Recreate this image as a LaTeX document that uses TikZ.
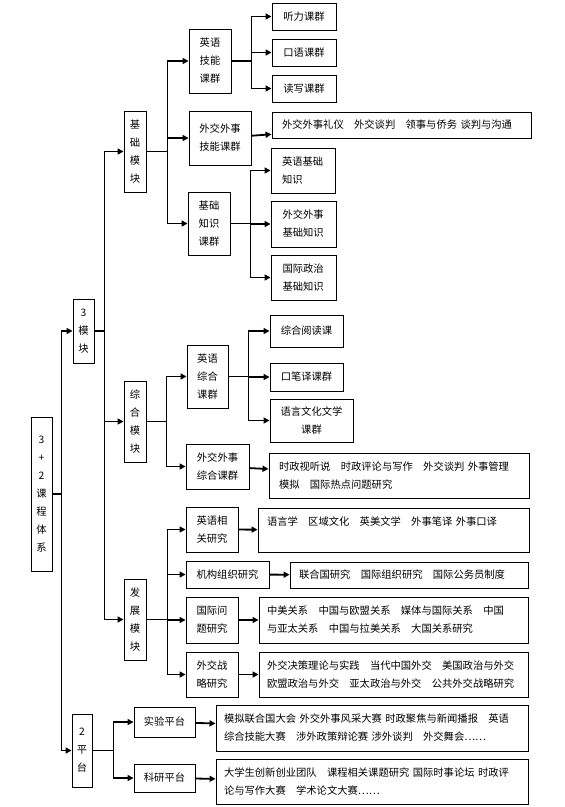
\documentclass[tikz,border=0pt]{standalone}
\usepackage{fontspec}
\setmainfont{Noto Sans CJK SC}
\usetikzlibrary{arrows.meta}

\begin{document}
\begin{tikzpicture}[x=1pt, y=-1pt,
        box/.style={draw, line width=0.9pt, inner sep=0pt, align=center, font=\fontsize{10.3}{18}\selectfont},
        wide/.style={box, align=left},
        ln/.style={line width=1.8pt},
        arr/.style={line width=1.8pt, -{Triangle[length=6pt, width=6pt]}}]
        \useasboundingbox (0,0) rectangle (565,807);

        % root and the two main parts
        \node[box, minimum width=21, minimum height=154] (root) at (41.5, 494) {3\\+\\2\\课\\程\\体\\系};
        \node[box, minimum width=21, minimum height=64] (mk) at (83.5, 331) {3\\模\\块};
        \node[box, minimum width=20, minimum height=73] (pt) at (82, 750.5) {2\\平\\台};

        % modules
        \node[box, minimum width=22, minimum height=81] (jc) at (135, 151.5) {基\\础\\模\\块};
        \node[box, minimum width=22, minimum height=81] (zh) at (135, 421.5) {综\\合\\模\\块};
        \node[box, minimum width=22, minimum height=81] (fz) at (135, 619.5) {发\\展\\模\\块};

        % course groups
        \node[box, minimum width=42, minimum height=64] (yyjn) at (210, 61) {英语\\技能\\课群};
        \node[box, minimum width=62, minimum height=54] (wjjn) at (220, 138) {外交外事\\技能课群};
        \node[box, minimum width=42, minimum height=63] (jczs) at (209, 223.5) {基础\\知识\\课群};
        \node[box, minimum width=41, minimum height=63] (yyzh) at (207.5, 376.5) {英语\\综合\\课群};
        \node[box, minimum width=63, minimum height=45] (wjzh) at (217.5, 466.5) {外交外事\\综合课群};
        \node[box, minimum width=52, minimum height=45] (yyyj) at (212, 529.5) {英语相\\关研究};
        \node[box, minimum width=83, minimum height=27] (jgzz) at (227.5, 574.5) {机构组织研究};
        \node[box, minimum width=52, minimum height=46] (gjwt) at (212, 620) {国际问\\题研究};
        \node[box, minimum width=52, minimum height=45] (wjzl) at (212, 674.5) {外交战\\略研究};
        \node[box, minimum width=61, minimum height=30] (sypt) at (164.5, 722) {实验平台};
        \node[box, minimum width=61, minimum height=28] (kypt) at (164.5, 778) {科研平台};

        % courses
        \node[box, minimum width=64, minimum height=27] (tl) at (304, 16.5) {听力课群};
        \node[box, minimum width=64, minimum height=27] (ky) at (304, 52.5) {口语课群};
        \node[box, minimum width=64, minimum height=27] (dx) at (304, 88.5) {读写课群};
        \node[wide, text width=239, minimum width=259, minimum height=26] (ly) at (401.5, 125)
            {外交外事礼仪\quad 外交谈判\quad 领事与侨务 谈判与沟通};
        \node[wide, text width=42, minimum width=64, minimum height=45] (yyjczs) at (303, 170.5) {英语基础\\知识};
        \node[wide, text width=42, minimum width=65, minimum height=46] (wjjczs) at (303.5, 224) {外交外事\\基础知识};
        \node[wide, text width=42, minimum width=65, minimum height=45] (gjzz) at (303.5, 277.5) {国际政治\\基础知识};
        \node[box, minimum width=73, minimum height=32] (zhyd) at (306.5, 331) {综合阅读课};
        \node[box, minimum width=73, minimum height=28] (kby) at (306.5, 377) {口笔译课群};
        \node[box, minimum width=83, minimum height=43] (yywh) at (311.5, 420.5) {语言文化文学\\课群};
        \node[wide, text width=240, minimum width=260, minimum height=45] (szst) at (399, 475.5)
            {时政视听说\quad 时政评论与写作\quad 外交谈判 外事管理\\模拟\quad 国际热点问题研究};
        \node[wide, text width=253, minimum width=271, minimum height=44] (yyx) at (393.5, 530)
            {语言学\quad 区域文化\quad 英美文学\quad 外事笔译 外事口译\\ \mbox{}};
        \node[wide, text width=220, minimum width=238, minimum height=26] (lhg) at (409, 575)
            {联合国研究\quad 国际组织研究\quad 国际公务员制度};
        \node[wide, text width=253, minimum width=269, minimum height=46] (zmgx) at (393.5, 620)
            {中美关系\quad 中国与欧盟关系\quad 媒体与国际关系\quad 中国\\与亚太关系\quad 中国与拉美关系\quad 大国关系研究};
        \node[wide, text width=253, minimum width=269, minimum height=45] (wjjc) at (393.5, 674.5)
            {外交决策理论与实践\quad 当代中国外交\quad 美国政治与外交\\欧盟政治与外交\quad 亚太政治与外交\quad 公共外交战略研究};
        \node[wide, text width=296, minimum width=312, minimum height=46] (mnlhg) at (372, 728)
            {模拟联合国大会 外交外事风采大赛 时政聚焦与新闻播报\quad 英语\\综合技能大赛\quad 涉外政策辩论赛 涉外谈判\quad 外交舞会……};
        \node[wide, text width=296, minimum width=312, minimum height=45] (dxs) at (372, 781.5)
            {大学生创新创业团队\quad 课程相关课题研究 国际时事论坛 时政评\\论与写作大赛\quad 学术论文大赛……};

        % draw arrows
        \draw[ln] (root.east) -- ++(9,0) coordinate (rb);
        \draw[arr] (rb) |- (mk.west);
        \draw[arr] (rb) |- (pt.west);

        \draw[ln] (mk.east) -- ++(10,0) coordinate (mb);
        \draw[arr] (mb) |- (jc.west);
        \draw[arr] (mb) |- (zh.west);
        \draw[arr] (mb) |- (fz.west);

        \draw[ln] (jc.east) -- ++(21,0) coordinate (jb);
        \draw[arr] (jb) |- (yyjn.west);
        \draw[arr] (jb) |- (wjjn.west);
        \draw[arr] (jb) |- (jczs.west);

        \draw[ln] (yyjn.east) -- ++(20,0) coordinate (yb);
        \draw[arr] (yb) |- (tl.west);
        \draw[arr] (yb) |- (ky.west);
        \draw[arr] (yb) |- (dx.west);
        \draw[arr] (wjjn) -- (ly);
        \draw[ln] (jczs.east) -- ++(20,0) coordinate (kb);
        \draw[arr] (kb) |- (yyjczs.west);
        \draw[arr] (kb) |- (wjjczs.west);
        \draw[arr] (kb) |- (gjzz.west);

        \draw[ln] (zh.east) -- ++(20,0) coordinate (zb);
        \draw[arr] (zb) |- (yyzh.west);
        \draw[arr] (zb) |- (wjzh.west);
        \draw[ln] (yyzh.east) -- ++(20,0) coordinate (eb);
        \draw[arr] (eb) |- (zhyd.west);
        \draw[arr] (eb) |- (kby.west);
        \draw[arr] (eb) |- (yywh.west);
        \draw[arr] (wjzh) -- (szst);

        \draw[ln] (fz.east) -- ++(21,0) coordinate (fb);
        \draw[arr] (fb) |- (yyyj.west);
        \draw[arr] (fb) |- (jgzz.west);
        \draw[arr] (fb) |- (gjwt.west);
        \draw[arr] (fb) |- (wjzl.west);
        \draw[arr] (yyyj) -- (yyx);
        \draw[arr] (jgzz) -- (lhg);
        \draw[arr] (gjwt) -- (zmgx);
        \draw[arr] (wjzl) -- (wjjc);

        \draw[ln] (pt.east) -- ++(21,0) coordinate (pb);
        \draw[arr] (pb) |- (sypt.west);
        \draw[arr] (pb) |- (kypt.west);
        \draw[arr] (sypt) -- (mnlhg);
        \draw[arr] (kypt) -- (dxs);

    \end{tikzpicture}
\end{document}
